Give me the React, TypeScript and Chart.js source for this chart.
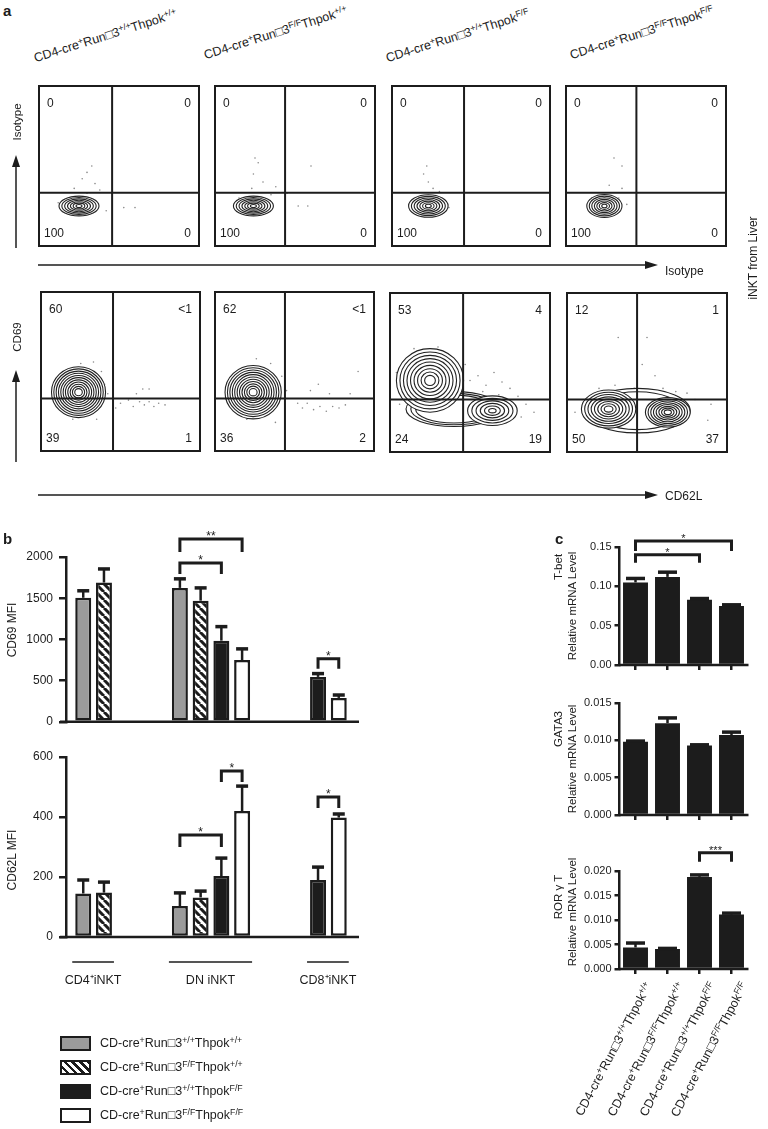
import React, { useEffect, useRef } from "react";
import { Chart, registerables } from "chart.js";

Chart.register(...registerables);

const FONT = "'Liberation Sans', Arial, Helvetica, sans-serif";
const INK = "#1c1c1c";
const GRAY = "#9b9b9b";
Chart.defaults.font.family = FONT;
Chart.defaults.color = INK;

// ---------------- Panel a data ----------------
const genotypeLabels = [
  "CD4-cre^{+}Run□3^{+/+}Thpok^{+/+}",
  "CD4-cre^{+}Run□3^{F/F}Thpok^{+/+}",
  "CD4-cre^{+}Run□3^{+/+}Thpok^{F/F}",
  "CD4-cre^{+}Run□3^{F/F}Thpok^{F/F}",
];
const isoTL = ["0", "0", "0", "0"];
const isoTR = ["0", "0", "0", "0"];
const isoBL = ["100", "100", "100", "100"];
const isoBR = ["0", "0", "0", "0"];
const cdTL = ["60", "62", "53", "12"];
const cdTR = ["<1", "<1", "4", "1"];
const cdBL = ["39", "36", "24", "50"];
const cdBR = ["1", "2", "19", "37"];
const isoGates = [[0.457, 0.333], [0.438, 0.333], [0.456, 0.333], [0.44, 0.333]];
const cdGates = [[0.453, 0.33], [0.44, 0.33], [0.457, 0.33], [0.438, 0.33]];
// contour populations: [cx, cy, rx, ry, rings, innermost fraction]
const isoContours = [
  [[0.25, 0.25, 0.125, 0.062, 7, 0.15]],
  [[0.24, 0.25, 0.125, 0.062, 7, 0.15]],
  [[0.23, 0.25, 0.125, 0.07, 7, 0.15]],
  [[0.24, 0.25, 0.11, 0.072, 7, 0.15]],
];
const cdContours = [
  [[0.236, 0.37, 0.17, 0.16, 11, 0.14]],
  [[0.24, 0.37, 0.177, 0.168, 11, 0.14]],
  [[0.4, 0.27, 0.3, 0.11, 3, 0.8], [0.64, 0.26, 0.155, 0.093, 6, 0.15], [0.25, 0.45, 0.21, 0.2, 9, 0.16]],
  [[0.44, 0.26, 0.33, 0.14, 2, 0.85], [0.63, 0.25, 0.14, 0.093, 8, 0.16], [0.26, 0.27, 0.17, 0.12, 8, 0.16]],
];
const isoDots = [
  [[0.3, 0.46], [0.33, 0.5], [0.27, 0.42], [0.35, 0.39], [0.22, 0.36], [0.38, 0.35], [0.2, 0.3], [0.12, 0.27], [0.42, 0.22], [0.53, 0.24], [0.6, 0.24], [0.3, 0.33]],
  [[0.25, 0.55], [0.27, 0.52], [0.24, 0.45], [0.3, 0.4], [0.23, 0.36], [0.38, 0.37], [0.45, 0.33], [0.52, 0.25], [0.58, 0.25], [0.35, 0.32], [0.15, 0.3], [0.6, 0.5]],
  [[0.22, 0.5], [0.2, 0.45], [0.23, 0.4], [0.26, 0.36], [0.14, 0.28], [0.36, 0.24], [0.3, 0.34]],
  [[0.3, 0.55], [0.35, 0.5], [0.27, 0.38], [0.35, 0.36], [0.16, 0.3], [0.33, 0.3], [0.38, 0.26]],
];
const cdDots = [
  [[0.55, 0.32], [0.58, 0.28], [0.62, 0.31], [0.65, 0.29], [0.68, 0.31], [0.71, 0.28], [0.74, 0.3], [0.78, 0.29], [0.6, 0.36], [0.64, 0.39], [0.68, 0.39], [0.5, 0.3], [0.47, 0.27], [0.1, 0.32], [0.15, 0.5], [0.25, 0.55], [0.33, 0.56], [0.38, 0.5], [0.4, 0.42], [0.42, 0.36], [0.08, 0.4], [0.2, 0.2], [0.35, 0.2]],
  [[0.52, 0.3], [0.55, 0.27], [0.58, 0.3], [0.62, 0.26], [0.66, 0.28], [0.7, 0.25], [0.74, 0.28], [0.78, 0.27], [0.82, 0.29], [0.6, 0.38], [0.65, 0.42], [0.72, 0.36], [0.85, 0.36], [0.12, 0.3], [0.14, 0.5], [0.26, 0.58], [0.35, 0.55], [0.42, 0.47], [0.45, 0.38], [0.2, 0.2], [0.38, 0.18], [0.9, 0.5]],
  [[0.5, 0.45], [0.55, 0.48], [0.6, 0.42], [0.65, 0.5], [0.7, 0.44], [0.75, 0.4], [0.8, 0.35], [0.58, 0.38], [0.68, 0.36], [0.85, 0.3], [0.82, 0.22], [0.9, 0.25], [0.04, 0.5], [0.06, 0.3], [0.15, 0.65], [0.3, 0.66], [0.47, 0.55]],
  [[0.32, 0.72], [0.5, 0.72], [0.47, 0.55], [0.55, 0.48], [0.6, 0.4], [0.68, 0.38], [0.75, 0.37], [0.8, 0.33], [0.42, 0.4], [0.5, 0.36], [0.3, 0.42], [0.2, 0.4], [0.9, 0.3], [0.88, 0.2], [0.05, 0.25]],
];

// ---------------- Panel b data ----------------
const bGroups = ["CD4⁺iNKT", "DN iNKT", "CD8⁺iNKT"];
const legendLabels = [
  "CD-cre^{+}Run□3^{+/+}Thpok^{+/+}",
  "CD-cre^{+}Run□3^{F/F}Thpok^{+/+}",
  "CD-cre^{+}Run□3^{+/+}Thpok^{F/F}",
  "CD-cre^{+}Run□3^{F/F}Thpok^{F/F}",
];
const cd69Gray = [1505, 1625, null];
const cd69GrayErr = [1590, 1735, null];
const cd69Striped = [1690, 1470, null];
const cd69StripedErr = [1855, 1625, null];
const cd69Black = [null, 985, 545];
const cd69BlackErr = [null, 1155, 585];
const cd69White = [null, 750, 290];
const cd69WhiteErr = [null, 885, 325];
const cd69Ticks = ["0", "500", "1000", "1500", "2000"];
const cd69Sig = [
  { a: [0, 1], b: [3, 1], y: 2218, leg: 13, label: "**" },
  { a: [0, 1], b: [2, 1], y: 1927, leg: 11, label: "*" },
  { a: [2, 2], b: [3, 2], y: 764, leg: 10, label: "*" },
];
const cd62lGray = [145, 103, null];
const cd62lGrayErr = [190, 147, null];
const cd62lStriped = [148, 132, null];
const cd62lStripedErr = [183, 153, null];
const cd62lBlack = [null, 203, 190];
const cd62lBlackErr = [null, 263, 233];
const cd62lWhite = [null, 420, 398];
const cd62lWhiteErr = [null, 503, 410];
const cd62lTicks = ["0", "200", "400", "600"];
const cd62lSig = [
  { a: [0, 1], b: [2, 1], y: 340, leg: 12, label: "*" },
  { a: [2, 1], b: [3, 1], y: 553, leg: 11, label: "*" },
  { a: [2, 2], b: [3, 2], y: 467, leg: 11, label: "*" },
];

// ---------------- Panel c data ----------------
const cLabels = [
  "CD4-cre^{+}Run□3^{+/+}Thpok^{+/+}",
  "CD4-cre^{+}Run□3^{F/F}Thpok^{+/+}",
  "CD4-cre^{+}Run□3^{+/+}Thpok^{F/F}",
  "CD4-cre^{+}Run□3^{F/F}Thpok^{F/F}",
];
const tbet = [0.105, 0.112, 0.083, 0.075];
const tbetErr = [0.110, 0.118, 0.0845, 0.0765];
const tbetTicks = ["0.00", "0.05", "0.10", "0.15"];
const tbetSig = [
  { a: [0, 0], b: [0, 3], y: 0.1576, leg: 10, label: "*" },
  { a: [0, 0], b: [0, 2], y: 0.140, leg: 8, label: "*" },
];
const gata3 = [0.0098, 0.0123, 0.0093, 0.0107];
const gata3Err = [0.0099, 0.0130, 0.0094, 0.0111];
const gata3Ticks = ["0.000", "0.005", "0.010", "0.015"];
const ror = [0.0044, 0.0041, 0.0188, 0.0111];
const rorErr = [0.0053, 0.0042, 0.0192, 0.0114];
const rorTicks = ["0.000", "0.005", "0.010", "0.015", "0.020"];
const rorSig = [{ a: [0, 2], b: [0, 3], y: 0.0237, leg: 9, label: "***" }];

// ---------------- helpers ----------------
const rich = (s: string) =>
  s.split(/(\^\{[^}]*\})/).filter((p) => p.length).map((p, i) =>
    p.startsWith("^{") ? (
      <span key={i} style={{ fontSize: "0.7em", position: "relative", top: "-0.5em" }}>{p.slice(2, -1)}</span>
    ) : (
      <span key={i}>{p}</span>
    )
  );
const plain = (s: string) => s.replace(/\^\{([^}]*)\}/g, "$1");

function stripePattern() {
  const c = document.createElement("canvas");
  c.width = 8;
  c.height = 8;
  const g = c.getContext("2d") as CanvasRenderingContext2D;
  g.fillStyle = "#fff";
  g.fillRect(0, 0, 8, 8);
  g.strokeStyle = INK;
  g.lineWidth = 3;
  g.beginPath();
  for (const o of [-8, 0, 8]) {
    g.moveTo(o, 0);
    g.lineTo(o + 8, 8);
  }
  g.stroke();
  return g.createPattern(c, "repeat");
}

function flowPlugin(contours: number[][], gate: number[], nums: string[]) {
  return {
    id: "flow",
    afterDatasetsDraw(chart: any) {
      const { ctx, chartArea: a, scales } = chart;
      const xs = scales.x, ys = scales.y;
      ctx.save();
      ctx.beginPath();
      ctx.rect(a.left, a.top, a.right - a.left, a.bottom - a.top);
      ctx.clip();
      for (const [cx, cy, rx, ry, n, inner] of contours) {
        const px = xs.getPixelForValue(cx), py = ys.getPixelForValue(cy);
        const prx = Math.abs(xs.getPixelForValue(cx + rx) - px);
        const pry = Math.abs(ys.getPixelForValue(cy + ry) - py);
        for (let i = 0; i < n; i++) {
          const f = 1 - (i * (1 - inner)) / Math.max(1, n - 1);
          ctx.beginPath();
          ctx.ellipse(px, py, prx * f, pry * f, 0, 0, Math.PI * 2);
          if (i === 0) {
            ctx.fillStyle = "#fff";
            ctx.fill();
          }
          ctx.strokeStyle = "#222";
          ctx.lineWidth = 1.1;
          ctx.stroke();
        }
      }
      ctx.restore();
      ctx.save();
      ctx.strokeStyle = INK;
      ctx.lineWidth = 2;
      const gx = xs.getPixelForValue(gate[0]), gy = ys.getPixelForValue(gate[1]);
      ctx.beginPath();
      ctx.moveTo(gx, a.top);
      ctx.lineTo(gx, a.bottom);
      ctx.moveTo(a.left, gy);
      ctx.lineTo(a.right, gy);
      ctx.stroke();
      ctx.strokeRect(a.left, a.top, a.right - a.left, a.bottom - a.top);
      ctx.fillStyle = INK;
      ctx.font = `12px ${FONT}`;
      ctx.textBaseline = "middle";
      ctx.textAlign = "left";
      ctx.fillText(nums[0], a.left + 8, a.top + 18);
      ctx.fillText(nums[2], a.left + 5, a.bottom - 12);
      ctx.textAlign = "right";
      ctx.fillText(nums[1], a.right - 8, a.top + 18);
      ctx.fillText(nums[3], a.right - 8, a.bottom - 12);
      ctx.restore();
    },
  };
}

function flowConfig(dots: number[][], contours: number[][], gate: number[], nums: string[]) {
  return {
    type: "scatter",
    data: {
      datasets: [
        {
          data: dots.map(([x, y]) => ({ x, y })),
          pointRadius: 0.8,
          pointBackgroundColor: "#8a8a8a",
          pointBorderWidth: 0,
        },
      ],
    },
    options: {
      responsive: false,
      animation: false,
      events: [],
      layout: { padding: 3 },
      plugins: { legend: { display: false }, tooltip: { enabled: false } },
      scales: {
        x: { type: "linear", min: 0, max: 1, display: false },
        y: { type: "linear", min: 0, max: 1, display: false },
      },
    },
    plugins: [flowPlugin(contours, gate, nums)],
  };
}

function barPlugins(o: any) {
  return [
    {
      id: "axisline",
      afterDatasetsDraw(chart: any) {
        const { ctx, chartArea: a } = chart;
        ctx.save();
        ctx.strokeStyle = INK;
        ctx.lineWidth = o.lw;
        ctx.beginPath();
        ctx.moveTo(a.left - o.extL, a.bottom);
        ctx.lineTo(a.right + o.extR, a.bottom);
        ctx.stroke();
        ctx.restore();
      },
    },
    {
      id: "errbars",
      afterDatasetsDraw(chart: any) {
        const { ctx } = chart;
        const ys = chart.scales.y;
        chart.data.datasets.forEach((ds: any, di: number) => {
          const meta = chart.getDatasetMeta(di);
          (ds.err || []).forEach((e: number | null, i: number) => {
            const v = ds.data[i];
            if (v == null || e == null) return;
            const el = meta.data[i];
            const x = el.x, y0 = el.y, y1 = ys.getPixelForValue(e);
            ctx.save();
            ctx.strokeStyle = INK;
            ctx.lineWidth = o.lw;
            ctx.beginPath();
            ctx.moveTo(x, y0);
            ctx.lineTo(x, y1);
            ctx.stroke();
            ctx.lineWidth = o.capLw;
            ctx.beginPath();
            ctx.moveTo(x - o.cap / 2, y1);
            ctx.lineTo(x + o.cap / 2, y1);
            ctx.stroke();
            ctx.restore();
          });
        });
      },
    },
    {
      id: "sig",
      afterDatasetsDraw(chart: any) {
        const { ctx } = chart;
        const ys = chart.scales.y;
        for (const s of o.sig) {
          const xa = chart.getDatasetMeta(s.a[0]).data[s.a[1]].x;
          const xb = chart.getDatasetMeta(s.b[0]).data[s.b[1]].x;
          const yp = ys.getPixelForValue(s.y);
          ctx.save();
          ctx.strokeStyle = INK;
          ctx.lineWidth = o.sigLw;
          ctx.lineJoin = "miter";
          ctx.beginPath();
          ctx.moveTo(xa, yp + s.leg);
          ctx.lineTo(xa, yp);
          ctx.lineTo(xb, yp);
          ctx.lineTo(xb, yp + s.leg);
          ctx.stroke();
          ctx.fillStyle = INK;
          ctx.font = `${o.sigFs}px ${FONT}`;
          ctx.textAlign = "center";
          ctx.textBaseline = "alphabetic";
          ctx.fillText(s.label, (xa + xb) / 2, yp + 1);
          ctx.restore();
        }
      },
    },
    {
      id: "groups",
      afterDraw(chart: any) {
        if (!o.groups) return;
        const { ctx, chartArea: a } = chart;
        ctx.save();
        ctx.strokeStyle = INK;
        ctx.fillStyle = INK;
        ctx.lineWidth = 1.5;
        ctx.font = `12.5px ${FONT}`;
        ctx.textAlign = "center";
        ctx.textBaseline = "middle";
        o.groups.forEach((g: string, i: number) => {
          const xs: number[] = [];
          chart.data.datasets.forEach((ds: any, di: number) => {
            if (ds.data[i] != null) {
              const el = chart.getDatasetMeta(di).data[i];
              xs.push(el.x - el.width / 2, el.x + el.width / 2);
            }
          });
          const l = Math.min(...xs) - 3, r = Math.max(...xs) + 2;
          ctx.beginPath();
          ctx.moveTo(l, a.bottom + 25);
          ctx.lineTo(r, a.bottom + 25);
          ctx.stroke();
          ctx.fillText(g, (l + r) / 2, a.bottom + 44);
        });
        ctx.restore();
      },
    },
  ];
}

function barConfig(o: any) {
  const tickLookup = (v: number) => {
    const t = o.ticks.find((s: string) => Math.abs(parseFloat(s) - v) < 1e-9);
    return t === undefined ? "" : t;
  };
  return {
    type: "bar",
    data: { labels: o.labels, datasets: o.datasets },
    options: {
      responsive: false,
      animation: false,
      events: [],
      layout: { padding: o.pad },
      plugins: { legend: { display: false }, tooltip: { enabled: false } },
      scales: {
        x: {
          type: "category",
          offset: true,
          border: { display: false },
          grid: o.xTickMarks
            ? { display: true, drawOnChartArea: false, drawTicks: true, tickLength: 5, lineWidth: o.lw, color: INK, offset: false }
            : { display: false },
          ticks: { display: false },
          afterFit: (s: any) => {
            s.height = 0;
          },
        },
        y: {
          min: 0,
          max: o.max,
          border: { display: true, width: o.lw, color: INK },
          grid: { display: true, drawOnChartArea: false, drawTicks: true, tickLength: o.tickLen, lineWidth: o.lw, color: INK },
          ticks: { stepSize: o.step, padding: o.tickPad, color: INK, font: { size: o.fs, family: FONT }, callback: (v: number) => tickLookup(v) },
          afterFit: (s: any) => {
            s.width = o.yWidth;
          },
        },
      },
    },
    plugins: barPlugins(o),
  };
}

function bDatasets(pattern: any, vals: any[][], errs: any[][]) {
  const fills = [GRAY, pattern, INK, "#ffffff"];
  return vals.map((v, i) => ({
    label: plain(legendLabels[i]),
    data: v,
    err: errs[i],
    backgroundColor: fills[i],
    borderColor: INK,
    borderWidth: 2.5,
    borderSkipped: false,
    categoryPercentage: 0.858,
    barPercentage: 0.77,
  }));
}

function cDataset(vals: number[], errs: number[]) {
  return [
    {
      label: "mRNA",
      data: vals,
      err: errs,
      backgroundColor: INK,
      borderColor: INK,
      borderWidth: 0,
      categoryPercentage: 1,
      barPercentage: 0.78,
    },
  ];
}

function ChartCanvas({ left, top, width, height, make }: { left: number; top: number; width: number; height: number; make: () => any }) {
  const ref = useRef<HTMLCanvasElement | null>(null);
  useEffect(() => {
    const chart = new Chart(ref.current as HTMLCanvasElement, make());
    return () => chart.destroy();
  }, []);
  return (
    <div style={{ position: "absolute", left, top, width, height }}>
      <canvas ref={ref} width={width} height={height} style={{ display: "block" }} />
    </div>
  );
}

const abs = (left: number, top: number, extra: any = {}) => ({ position: "absolute" as const, left, top, whiteSpace: "nowrap" as const, ...extra });

function VText({ cx, cy, size = 12, children }: any) {
  return (
    <div style={abs(cx, cy, { fontSize: size, lineHeight: `${size + 2}px`, transform: "translate(-50%,-50%) rotate(-90deg)" })}>{children}</div>
  );
}

const isoBoxes = [[38, 85, 162, 162], [214, 85, 162, 162], [391, 85, 160, 162], [565, 85, 162, 162]];
const cdBoxes = [[40, 291, 161, 161], [214, 291, 161, 161], [389, 292, 162, 161], [566, 292, 162, 161]];
const headerStarts = [[37, 66], [207, 63], [389, 66], [573, 63]];

export default function App() {
  const patRef = useRef<any>(null);
  const pat = () => {
    if (!patRef.current) patRef.current = stripePattern();
    return patRef.current;
  };
  const cTickX = [635.5, 667.5, 699.5, 731.5];

  return (
    <div style={{ position: "absolute", left: 0, top: 0, width: 768, height: 1129, background: "#fff", fontFamily: FONT, color: INK, overflow: "hidden" }}>
      {/* Panel a */}
      <div style={abs(3, 2, { fontSize: 15, fontWeight: "bold" })}>a</div>
      {genotypeLabels.map((g, i) => (
        <div key={i} style={abs(headerStarts[i][0], headerStarts[i][1] - 15, { fontSize: 12.5, lineHeight: "15px", transformOrigin: "0 100%", transform: "rotate(-17.5deg)" })}>
          {rich(g)}
        </div>
      ))}
      {isoBoxes.map((b, i) => (
        <ChartCanvas key={"i" + i} left={b[0] - 3} top={b[1] - 3} width={b[2] + 6} height={b[3] + 6}
          make={() => flowConfig(isoDots[i], isoContours[i], isoGates[i], [isoTL[i], isoTR[i], isoBL[i], isoBR[i]])} />
      ))}
      {cdBoxes.map((b, i) => (
        <ChartCanvas key={"c" + i} left={b[0] - 3} top={b[1] - 3} width={b[2] + 6} height={b[3] + 6}
          make={() => flowConfig(cdDots[i], cdContours[i], cdGates[i], [cdTL[i], cdTR[i], cdBL[i], cdBR[i]])} />
      ))}
      <svg width={768} height={1129} style={{ position: "absolute", left: 0, top: 0, pointerEvents: "none" }}>
        <g stroke={INK} strokeWidth={1.5} fill={INK}>
          <line x1={16} y1={248} x2={16} y2={164} />
          <polygon points="16,155 12,167 20,167" stroke="none" />
          <line x1={38} y1={265} x2={646} y2={265} />
          <polygon points="658,265 645,261 645,269" stroke="none" />
          <line x1={16} y1={462} x2={16} y2={379} />
          <polygon points="16,370 12,382 20,382" stroke="none" />
          <line x1={38} y1={495} x2={646} y2={495} />
          <polygon points="658,495 645,491 645,499" stroke="none" />
        </g>
      </svg>
      <VText cx={18} cy={122} size={11.5}>Isotype</VText>
      <VText cx={18} cy={337} size={11.5}>CD69</VText>
      <div style={abs(665, 264, { fontSize: 12, lineHeight: "14px" })}>Isotype</div>
      <div style={abs(665, 489, { fontSize: 12, lineHeight: "14px" })}>CD62L</div>
      <VText cx={753} cy={258} size={12}>iNKT from Liver</VText>

      {/* Panel b */}
      <div style={abs(3, 530, { fontSize: 15, fontWeight: "bold" })}>b</div>
      <VText cx={12} cy={630} size={12}>CD69 MFI</VText>
      <VText cx={12} cy={860} size={12}>CD62L MFI</VText>
      <ChartCanvas left={0} top={520} width={370} height={215}
        make={() => barConfig({
          labels: bGroups,
          datasets: bDatasets(pat(), [cd69Gray, cd69Striped, cd69Black, cd69White], [cd69GrayErr, cd69StripedErr, cd69BlackErr, cd69WhiteErr]),
          max: 2000, step: 500, ticks: cd69Ticks, yWidth: 66, pad: { left: 0, top: 37, right: 14, bottom: 13 },
          lw: 2.5, tickLen: 7, tickPad: 6, fs: 12, extL: 6, extR: 3, cap: 12, capLw: 3.5, sig: cd69Sig, sigLw: 3, sigFs: 12,
        })} />
      <ChartCanvas left={0} top={740} width={370} height={260}
        make={() => barConfig({
          labels: bGroups,
          datasets: bDatasets(pat(), [cd62lGray, cd62lStriped, cd62lBlack, cd62lWhite], [cd62lGrayErr, cd62lStripedErr, cd62lBlackErr, cd62lWhiteErr]),
          max: 600, step: 200, ticks: cd62lTicks, yWidth: 66, pad: { left: 0, top: 17, right: 14, bottom: 63 },
          lw: 2.5, tickLen: 7, tickPad: 6, fs: 12, extL: 6, extR: 3, cap: 12, capLw: 3.5, sig: cd62lSig, sigLw: 3, sigFs: 12, groups: bGroups,
        })} />
      {legendLabels.map((l, i) => (
        <React.Fragment key={"lg" + i}>
          <div style={abs(60, 1036 + i * 24, {
            width: 27, height: 11, border: `2px solid ${INK}`,
            background: i === 0 ? GRAY : i === 2 ? INK : i === 3 ? "#fff" : `repeating-linear-gradient(45deg, #fff 0px, #fff 3px, ${INK} 3px, ${INK} 5.5px)`,
          })} />
          <div style={abs(100, 1036 + i * 24, { fontSize: 12.5, lineHeight: "15px" })}>{rich(l)}</div>
        </React.Fragment>
      ))}

      {/* Panel c */}
      <div style={abs(555, 530, { fontSize: 15, fontWeight: "bold" })}>c</div>
      <VText cx={559} cy={567} size={11.5}>T-bet</VText>
      <VText cx={573} cy={606} size={11.5}>Relative mRNA Level</VText>
      <VText cx={559} cy={729} size={11.5}>GATA3</VText>
      <VText cx={573} cy={759} size={11.5}>Relative mRNA Level</VText>
      <VText cx={559} cy={897} size={11.5}>ROR γ T</VText>
      <VText cx={573} cy={912} size={11.5}>Relative mRNA Level</VText>
      <ChartCanvas left={575} top={525} width={185} height={155}
        make={() => barConfig({
          labels: cLabels.map(plain), datasets: cDataset(tbet, tbetErr), max: 0.15, step: 0.05, ticks: tbetTicks,
          yWidth: 44.5, pad: { left: 0, top: 22, right: 12.5, bottom: 15 }, lw: 2.5, tickLen: 5, tickPad: 3, fs: 11,
          extL: 0, extR: 1, cap: 19, capLw: 3.5, sig: tbetSig, sigLw: 3, sigFs: 11, xTickMarks: true,
        })} />
      <ChartCanvas left={575} top={688} width={185} height={142}
        make={() => barConfig({
          labels: cLabels.map(plain), datasets: cDataset(gata3, gata3Err), max: 0.015, step: 0.005, ticks: gata3Ticks,
          yWidth: 44.5, pad: { left: 0, top: 15, right: 12.5, bottom: 15 }, lw: 2.5, tickLen: 5, tickPad: 3, fs: 11,
          extL: 0, extR: 1, cap: 19, capLw: 3.5, sig: [], sigLw: 3, sigFs: 11, xTickMarks: true,
        })} />
      <ChartCanvas left={575} top={836} width={185} height={150}
        make={() => barConfig({
          labels: cLabels.map(plain), datasets: cDataset(ror, rorErr), max: 0.02, step: 0.005, ticks: rorTicks,
          yWidth: 44.5, pad: { left: 0, top: 35, right: 12.5, bottom: 17 }, lw: 2.5, tickLen: 5, tickPad: 3, fs: 11,
          extL: 0, extR: 1, cap: 19, capLw: 3.5, sig: rorSig, sigLw: 3, sigFs: 11, xTickMarks: true,
        })} />
      {cLabels.map((l, i) => (
        <div key={"cl" + i} style={abs(cTickX[i] + 14, 983, { width: 0, height: 0 })}>
          <div style={{ position: "absolute", right: 0, top: -7, fontSize: 12.5, lineHeight: "14px", whiteSpace: "nowrap", transformOrigin: "100% 50%", transform: "rotate(-62deg)" }}>
            {rich(l)}
          </div>
        </div>
      ))}
    </div>
  );
}
